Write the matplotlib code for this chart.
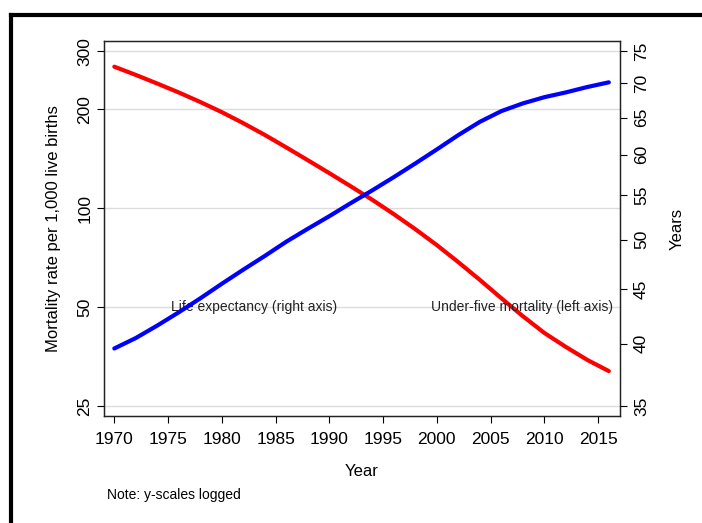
"""Under-five mortality vs life expectancy, both y-scales logged (Stata-like style)."""
import matplotlib
matplotlib.use("Agg")
import matplotlib.pyplot as plt
from matplotlib.lines import Line2D
from matplotlib.ticker import FixedLocator, FixedFormatter, NullLocator

plt.rcParams["font.family"] = ["Liberation Sans", "DejaVu Sans"]

# Datos
years = [1970, 1972, 1974, 1976, 1978, 1980, 1982, 1984, 1986, 1988, 1990, 1992,
         1994, 1996, 1998, 2000, 2002, 2004, 2006, 2008, 2010, 2012, 2014, 2016]
u5mr = [269.4, 254.3, 239.4, 224.9, 210.4, 196.0, 181.4, 167.1, 153.1, 140.0, 127.9, 116.6,
        106.1, 96.0, 86.4, 77.3, 68.6, 60.6, 53.3, 47.0, 41.8, 37.9, 34.6, 32.0]
life_exp = [39.6, 40.5, 41.6, 42.8, 44.1, 45.5, 46.9, 48.3, 49.8, 51.2, 52.6, 54.1,
            55.6, 57.2, 58.9, 60.7, 62.6, 64.4, 65.9, 67.0, 67.9, 68.6, 69.4, 70.1]

x_ticks = [1970, 1975, 1980, 1985, 1990, 1995, 2000, 2005, 2010, 2015]
left_ticks = [25, 50, 100, 200, 300]
right_ticks = [35, 40, 45, 50, 55, 60, 65, 70, 75]

fig = plt.figure(figsize=(7.02, 5.23), dpi=100)
ax = fig.add_axes([104 / 702, 1 - 416 / 523, 516 / 702, 375 / 523])
ax2 = ax.twinx()

ax.plot(years, u5mr, color="#ff0000", lw=3.0, solid_capstyle="round", zorder=3)
ax2.plot(years, life_exp, color="#0000ff", lw=3.0, solid_capstyle="round", zorder=3)

ax.set_yscale("log")
ax2.set_yscale("log")
ax.set_xlim(1969.04, 2017.04)
ax.set_ylim(23.37, 322.5)
ax2.set_ylim(34.26, 76.6)

for a, ticks in ((ax, left_ticks), (ax2, right_ticks)):
    a.yaxis.set_major_locator(FixedLocator(ticks))
    a.yaxis.set_major_formatter(FixedFormatter([str(t) for t in ticks]))
    a.yaxis.set_minor_locator(NullLocator())
ax.set_xticks(x_ticks)

ax.grid(axis="y", color="#dcdcdc", lw=1.0)
ax.set_axisbelow(True)

ax.tick_params(axis="x", labelsize=12.5, length=5, width=0.8, pad=6.5)
ax.tick_params(axis="y", labelsize=12.5, length=5, width=0.8, pad=3.5, labelrotation=90)
ax2.tick_params(axis="y", labelsize=12.5, length=5, width=0.8, pad=5, labelrotation=90)
for lab in ax.get_yticklabels():
    lab.set_va("center")
for lab in ax2.get_yticklabels():
    lab.set_va("center")

for a in (ax, ax2):
    for sp in a.spines.values():
        sp.set_linewidth(0.9)
        sp.set_color("#222222")

ax.set_xlabel("Year", fontsize=12, labelpad=12)
ax.set_ylabel("Mortality rate per 1,000 live births", fontsize=12, labelpad=11.5)
ax2.set_ylabel("Years", fontsize=12, labelpad=15)

ax.text(1983.0, 50, "Life expectancy (right axis)", fontsize=10,
        ha="center", va="center", color="#222222", zorder=4)
ax.text(2007.9, 50, "Under-five mortality (left axis)", fontsize=10,
        ha="center", va="center", color="#222222", zorder=4)

fig.text(107 / 702, 1 - 495 / 523, "Note: y-scales logged", fontsize=10,
         ha="left", va="center")

# marco negro del recorte (solo borde izquierdo y superior)
fig.add_artist(Line2D([11 / 702, 11 / 702], [0, 1 - 14.7 / 523], color="black", lw=3.0,
                      transform=fig.transFigure, solid_capstyle="projecting"))
fig.add_artist(Line2D([11 / 702, 1], [1 - 14.7 / 523, 1 - 14.7 / 523], color="black", lw=3.0,
                      transform=fig.transFigure, solid_capstyle="projecting"))

fig.savefig("out.png", dpi=100)
